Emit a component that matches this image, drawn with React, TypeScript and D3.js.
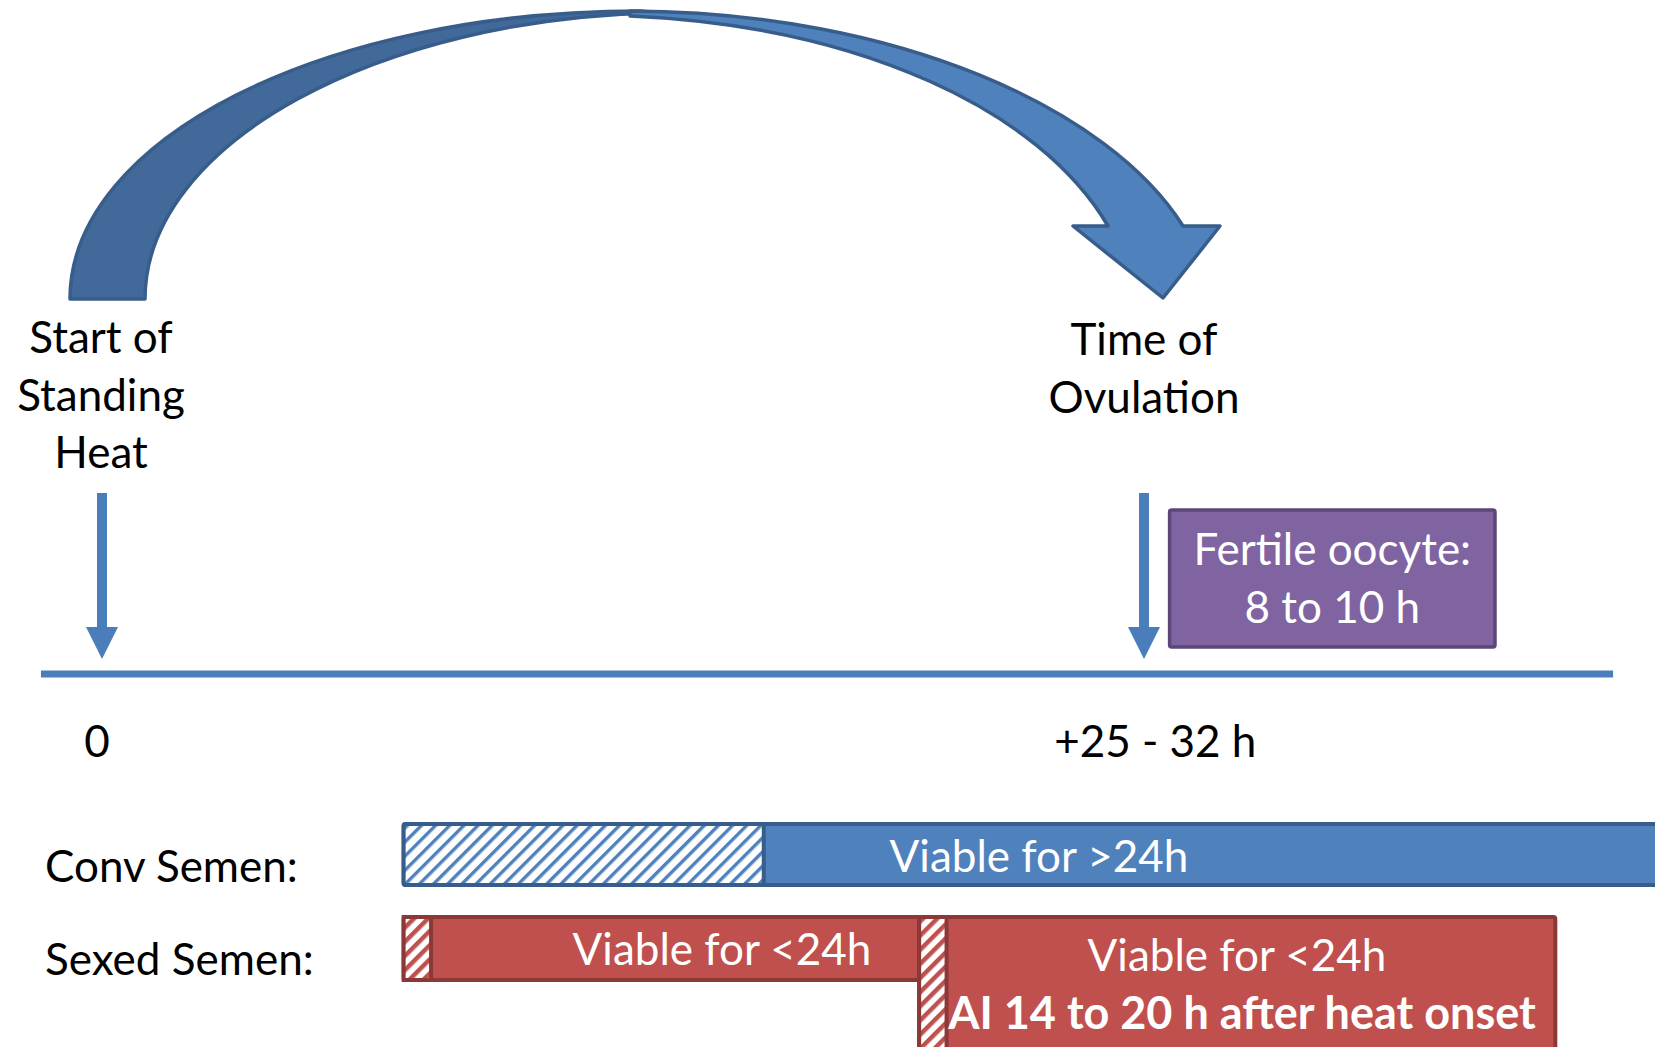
import * as d3 from 'd3'

// hours from start of standing heat
const timeDomain = [0, 28.5]
const timeLabels = ['0', '+25 - 32 h']
const timeLabelHours = [0, 29]
const eventLabels = [['Start of', 'Standing', 'Heat'], ['Time of', 'Ovulation']]
const eventHours = [0, 28.5]
const rowLabels = ['Conv Semen:', 'Sexed Semen:']
// bars: [start, end of hatched part, end] in hours
const convBar = [8.25, 18.1, 48]
const sexedBars = [[8.25, 9.0, 22.4], [22.35, 23.1, 39.75]]
const convText = ['Viable for >24h']
const sexedText = [['Viable for <24h'], ['Viable for <24h', 'AI 14 to 20 h after heat onset']]
const oocyteHours = [29.2, 38.1]
const oocyteText = ['Fertile oocyte:', '8 to 10 h']

const W = 1655
const H = 1047
const FONT = 'Lato, "Open Sans", sans-serif'
const FS = 44

export default function App() {
  const x = d3.scaleLinear().domain(timeDomain).range([102, 1144])
  const x0 = x(eventHours[0])
  const x1 = x(eventHours[1])

  // curved arrow: back half (darker) from the foot up to the apex
  const apexX = 640
  const back = d3.path()
  back.moveTo(x0 - 32, 299)
  back.bezierCurveTo(x0 - 32, 140, 322, 11, apexX, 11)
  back.lineTo(apexX + 20, 13)
  back.bezierCurveTo(380, 17, x0 + 43, 143, x0 + 43, 299)
  back.closePath()

  // front half with the arrow head
  const front = d3.path()
  front.moveTo(apexX - 10, 11)
  front.bezierCurveTo(900, 12, 1110, 110, x1 + 39, 226)
  front.lineTo(x1 + 76, 226)
  front.lineTo(x1 + 19, 298)
  front.lineTo(x1 - 71, 226)
  front.lineTo(x1 - 36, 226)
  front.bezierCurveTo(1040, 110, 860, 26, apexX - 10, 16)
  front.closePath()

  const downArrow = (cx: number) => {
    const p = d3.path()
    p.moveTo(cx - 5, 493)
    p.lineTo(cx + 5, 493)
    p.lineTo(cx + 5, 627)
    p.lineTo(cx + 16, 627)
    p.lineTo(cx, 659)
    p.lineTo(cx - 16, 627)
    p.lineTo(cx - 5, 627)
    p.closePath()
    return p.toString()
  }

  const convTop = 824
  const convH = 61
  const sexTop = 917
  const sexH = [63, 160]
  const convTextX = [1039]
  const sexTextX = [[722], [1237, 1242]]

  return (
    <svg width={W} height={H} style={{ position: 'absolute', left: 0, top: 0, background: '#fff' }}
      fontFamily={FONT}>
      <defs>
        <pattern id="hatchBlue" patternUnits="userSpaceOnUse" width="10" height="10" patternTransform="rotate(45)">
          <rect width="10" height="10" fill="#fff" />
          <rect width="3.4" height="10" fill="#4F81BD" />
        </pattern>
        <pattern id="hatchRed" patternUnits="userSpaceOnUse" width="10" height="10" patternTransform="rotate(45)">
          <rect width="10" height="10" fill="#fff" />
          <rect width="4.5" height="10" fill="#C0504D" />
        </pattern>
      </defs>

      {/* curved arrow */}
      <path d={back.toString()} fill="#41699A" stroke="#385D8A" strokeWidth={3.5} strokeLinejoin="round" />
      <path d={front.toString()} fill="#4F81BD" stroke="#385D8A" strokeWidth={3.5} strokeLinejoin="round" />

      {/* event labels */}
      {eventLabels.map((lines, i) => (
        <text key={i} x={x(eventHours[i])} textAnchor="middle" fontSize={FS} fill="#000">
          {lines.map((l, j) => (
            <tspan key={j} x={x(eventHours[i]) + (i === 0 ? -1 : 0)} y={(i === 0 ? 353 : 355) + j * 57.5}>{l}</tspan>
          ))}
        </text>
      ))}

      {/* down arrows */}
      {eventHours.map((h, i) => (
        <path key={i} d={downArrow(x(h))} fill="#4A7EBB" />
      ))}

      {/* timeline */}
      <line x1={x(-1.67)} x2={x(41.33)} y1={674} y2={674} stroke="#4A7EBB" strokeWidth={7} />
      {timeLabels.map((t, i) => (
        <text key={t} x={x(timeLabelHours[i]) - (i === 0 ? 5 : 7)} y={757} textAnchor="middle" fontSize={FS} fill="#000">{t}</text>
      ))}

      {/* fertile oocyte box */}
      <rect x={x(oocyteHours[0])} y={510} width={x(oocyteHours[1]) - x(oocyteHours[0])} height={137}
        fill="#8064A2" stroke="#5C4776" strokeWidth={3.5} rx={2} />
      {oocyteText.map((t, i) => (
        <text key={t} x={(x(oocyteHours[0]) + x(oocyteHours[1])) / 2} y={565 + i * 58} textAnchor="middle"
          fontSize={FS} fill="#fff">{t}</text>
      ))}

      {/* row labels */}
      {rowLabels.map((t, i) => (
        <text key={t} x={45} y={882 + i * 93} fontSize={FS} fill="#000">{t}</text>
      ))}

      {/* conventional semen */}
      <rect x={x(convBar[0])} y={convTop} width={x(convBar[2]) - x(convBar[0])} height={convH}
        fill="#4F81BD" stroke="#385D8A" strokeWidth={4} rx={2} />
      <rect x={x(convBar[0])} y={convTop} width={x(convBar[1]) - x(convBar[0])} height={convH}
        fill="url(#hatchBlue)" stroke="#385D8A" strokeWidth={4} rx={2} />
      <text x={convTextX[0]} y={872} textAnchor="middle" fontSize={FS} fill="#fff">{convText[0]}</text>

      {/* sexed semen */}
      {sexedBars.map((b, i) => (
        <g key={i}>
          <rect x={x(b[0])} y={sexTop} width={x(b[2]) - x(b[0])} height={sexH[i]}
            fill="#C0504D" stroke="#8C3836" strokeWidth={4} rx={2} />
          <rect x={x(b[0])} y={sexTop} width={x(b[1]) - x(b[0])} height={sexH[i]}
            fill="url(#hatchRed)" stroke="#8C3836" strokeWidth={4} />
          {sexedText[i].map((t, j) => (
            <text key={j} x={sexTextX[i][j]} y={965 + i * 6 + j * 58}
              textAnchor="middle" fontSize={j === 1 ? 45 : FS} fontWeight={j === 1 ? 700 : 400} fill="#fff">{t}</text>
          ))}
        </g>
      ))}
    </svg>
  )
}
